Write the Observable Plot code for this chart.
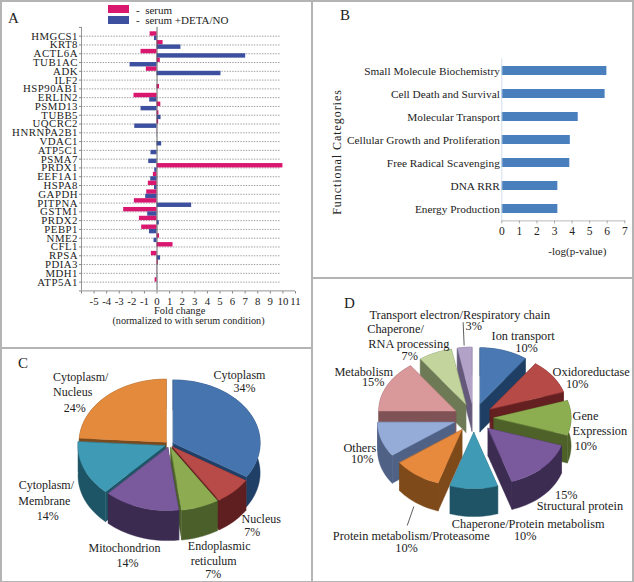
<!DOCTYPE html>
<html>
<head>
<meta charset="utf-8">
<script src="https://cdn.jsdelivr.net/npm/d3@7"></script>
<script src="https://cdn.jsdelivr.net/npm/@observablehq/plot@0.6"></script>
<style>
html,body{margin:0;padding:0;background:#fff}
#page{position:relative;width:634px;height:582px;overflow:hidden;font-family:"Liberation Serif",serif;color:#222}
.panel{position:absolute}
.panel svg{display:block;background:transparent!important;font-family:"Liberation Serif",serif}
.letter{position:absolute;font-size:15px;line-height:15px}
.edge{position:absolute;background:#b4b4b4}
.swatch{position:absolute;width:21px}
.legtext{position:absolute;font-size:11px;line-height:12px;white-space:pre}
.spaced [aria-label="y-axis tick label"] text{letter-spacing:.5px}
.rot{position:absolute;white-space:nowrap;font-size:12px;letter-spacing:.95px;transform:translate(-50%,-50%) rotate(-90deg)}
</style>
</head>
<body>
<div id="page"></div>
<script>
// ---------- Panel A data
const genes = ["HMGCS1","KRT8","ACTL6A","TUB1AC","ADK","ILF2","HSP90AB1","ERLIN2","PSMD13","TUBB5","UQCRC2","HNRNPA2B1","VDAC1","ATP5C1","PSMA7","PRDX1","EEF1A1","HSPA8","GAPDH","PITPNA","GSTM1","PRDX2","PEBP1","NME2","CFL1","RPSA","PDIA3","MDH1","ATP5A1"];
const minusSerum = [-0.55,0.48,-1.27,0.26,-0.85,0,0.2,-1.83,0.3,0.15,0.13,0.02,0,0,0,10,-0.29,-0.69,-0.82,-1.8,-2.65,-1.4,-1.22,0.2,1.27,-0.45,0.1,0.02,-0.15];
const minusSerumDeta = [-0.2,1.9,7.04,-2.14,5.08,0,0,-0.58,-1.27,0.32,-1.77,0.02,0.37,-0.48,-0.66,-0.18,-0.5,-0.2,-0.9,2.75,-0.74,0.18,-0.6,-0.24,0,0.28,0.02,0.02,0];
const foldTicks = d3.range(-6,12);
// ---------- Panel B data
const categories = ["Small Molecule Biochemistry","Cell Death and Survival","Molecular Transport","Cellular Growth and Proliferation","Free Radical Scavenging","DNA RRR","Energy Production"];
const logP = [5.98,5.88,4.35,3.9,3.87,3.19,3.19];
// ---------- Panel C data
const locNames = [["Cytoplasm","34%"],["Nucleus","7%"],["Endoplasmic","reticulum","7%"],["Mitochondrion","14%"],["Cytoplasm/","Membrane","14%"],["Cytoplasm/","Nucleus","24%"]];
const locShares = [34,7,7,14,14,24];
// ---------- Panel D data
const funcNames = [["Ion transport","10%"],["Oxidoreductase","10%"],["Gene","Expression","10%"],["15%","Structural protein"],["Chaperone/Protein metabolism","10%"],["Protein metabolism/Proteasome","10%"],["Others","10%"],["Metabolism","15%"],["Chaperone/","RNA processing","7%"],["Transport electron/Respiratory chain","3%"]];
const funcShares = [10,10,10,15,10,10,10,15,7,3];

// ---------- Styles
const pink="#d9176f", navy="#3d509f", barBlue="#4a7fbd";
const topC=["#4674ae","#b84a47","#8dac52","#7a5a9c","#3f9ab5","#e48a3c"];
const sideC=["#1f3f66","#5f1f20","#4b5f2a","#3b2b50","#1e5566","#7a4a1c"];
const topD=["#4a78b2","#b54a47","#8cae50","#7a5a9c","#3f9ab5","#e78a3e","#95acd8","#d9989a","#c3d59c","#b3a2c8"];
const sideD=["#1e3e63","#641f20","#4d6129","#3c2c52","#1e5466","#7f4a1a","#4f6185","#7f5355","#6d7a55","#64597a"];

const page=document.getElementById("page");
function place(node,left,top){const d=document.createElement("div");d.className="panel";d.style.left=left+"px";d.style.top=top+"px";d.appendChild(node);page.appendChild(d);}
function html(cls,style,text){const d=document.createElement("div");d.className=cls;Object.assign(d.style,style);if(text)d.textContent=text;page.appendChild(d);return d;}

// ---------- Panel A
const rowsA = genes.flatMap((g,i)=>[
  {i,zero:0,v:minusSerum[i],y1:i-.5,y2:i,c:pink},
  {i,zero:0,v:minusSerumDeta[i],y1:i,y2:i+.5,c:navy}]).filter(d=>d.v!==0);
const plotA = Plot.plot({
  className:"spaced",width:310,height:348,marginLeft:81,marginRight:15,marginTop:27,marginBottom:57,
  style:{background:"transparent"},
  x:{domain:[-6,11],range:[81,295]},
  y:{domain:[-1,29],range:[26.9,290.4]},
  color:{type:"identity"},
  marks:[
    Plot.ruleY(genes.map((g,i)=>i),{y:d=>d,x1:-6,x2:9.8,stroke:"#8a8a8a",strokeWidth:.8,strokeDasharray:"1.5,1.2"}),
    Plot.rect(rowsA,{x1:"zero",x2:"v",y1:"y1",y2:"y2",fill:"c"}),
    Plot.ruleX([0],{y1:-1,y2:29,stroke:"#555",strokeWidth:.9}),
    Plot.ruleX([-6],{y1:-1,y2:29,stroke:"#888",strokeWidth:.9}),
    Plot.ruleY([29],{x1:-6,x2:11,stroke:"#888",strokeWidth:.9}),
    Plot.axisY({ticks:d3.range(-1,30),tickFormat:i=>genes[i]||"",tickSize:2,tickPadding:1.5,fontSize:10.8,label:null,fill:"#222",stroke:"#888"}),
    Plot.axisX({ticks:foldTicks,tickFormat:v=>v===-6?"":String(v),tickSize:2.5,tickPadding:3.5,fontSize:10.8,label:null,stroke:"#888",fill:"#222"}),
    Plot.text(["Fold change"],{x:1.8,y:29,dy:19.5,text:d=>d,fontSize:10.5,fill:"#222"}),
    Plot.text(["(normalized to with serum condition)"],{x:2.5,y:29,dy:29.5,text:d=>d,fontSize:10.2,fill:"#222"})
  ]
});
place(plotA,0,0);

// ---------- Panel B
const rowsB = categories.map((c,i)=>({c,v:logP[i]}));
const plotB = Plot.plot({
  width:320,height:276,marginLeft:189.3,marginRight:7.7,marginTop:58.4,marginBottom:55.6,
  style:{background:"transparent"},
  x:{domain:[0,7]},
  y:{domain:categories,paddingInner:.6,paddingOuter:.3},
  marks:[
    Plot.barX(rowsB,{x:"v",y:"c",fill:barBlue}),
    Plot.ruleX([0],{stroke:"#d2dfee",strokeWidth:1}),
    Plot.frame({anchor:"bottom",stroke:"#bbb"}),
    Plot.axisY({tickSize:0,tickPadding:2,fontSize:11.3,label:null,fill:"#222"}),
    Plot.axisX({ticks:d3.range(0,8),tickFormat:d3.format("d"),tickSize:3,tickPadding:3,fontSize:11.5,label:null,stroke:"#aaa",fill:"#222",anchor:"bottom"}),
    Plot.text(["-log(p-value)"],{x:4.3,frameAnchor:"bottom",dy:34,text:d=>d,fontSize:11,fill:"#222"})
  ]
});
place(plotB,312,0);

// ---------- Pie geometry (elliptical projection with extrusion)
function pieGeometry(shares,tops,sides,cx,cy,rx,ry,depth,explode){
  const total=d3.sum(shares);
  let start=0;
  const slices=shares.map((s,i)=>{
    const a0=start,a1=start+s/total*2*Math.PI;start=a1;
    const mid=(a0+a1)/2;
    const ox=cx+explode*Math.sin(mid), oy=cy-explode*(ry/rx)*Math.cos(mid);
    const n=Math.max(4,Math.round((a1-a0)/0.05));
    const rim=d3.range(n+1).map(k=>{const a=a0+(a1-a0)*k/n;return [ox+rx*Math.sin(a),oy-ry*Math.cos(a)];});
    return {i,mid,apex:[ox,oy],rim,ax:cx+rx*Math.sin(mid),ay:cy-ry*Math.cos(mid),sortY:oy-ry*0.5*Math.cos(mid)};
  });
  const pts=[];
  const push=(id,c,ring)=>ring.forEach(([x,y])=>pts.push({id,x,y,c}));
  const down=(p,d)=>[p[0],p[1]+d];
  slices.slice().sort((p,q)=>p.sortY-q.sortY).forEach(s=>{
    const c=sides[s.i], first=s.rim[0], last=s.rim[s.rim.length-1];
    push(`a${s.i}`,c,[s.apex,first,down(first,depth),down(s.apex,depth)]);
    push(`b${s.i}`,c,[s.apex,last,down(last,depth),down(s.apex,depth)]);
    push(`o${s.i}`,c,[...s.rim,...s.rim.slice().reverse().map(p=>down(p,depth))]);
    push(`t${s.i}`,tops[s.i],[s.apex,...s.rim]);
  });
  return {pts,slices};
}
function pieLabels(names,slices,offsets){
  return names.flatMap((lines,i)=>lines.map((t,j)=>({t,x:slices[i].ax+offsets[i][j][0],y:slices[i].ay+offsets[i][j][1]})));
}
function piePlot(geo,labels,w,h,x0,y0,links,fs){
  return Plot.plot({
    width:w,height:h,margin:0,style:{background:"transparent"},
    x:{domain:[x0,x0+w],range:[0,w],axis:null},
    y:{domain:[y0,y0+h],range:[0,h],axis:null},
    color:{type:"identity"},
    marks:[
      Plot.line(geo.pts,{x:"x",y:"y",z:"id",fill:"c",stroke:"c",strokeWidth:.4,curve:"linear-closed"}),
      ...links,
      Plot.text(labels,{x:"x",y:"y",text:"t",fontSize:fs,fill:"#222"})
    ]
  });
}

// ---------- Panel C
const geoC=pieGeometry(locShares,topC,sideC,168.7,444,87,63,30,4.5);
const placeC=[[[-6,-38.6],[-1,-26]],[[30.5,30.5],[21.5,43.2]],[[20.5,42.4],[15,57.4],[14.5,70.7]],[[-17.8,43.8],[-14.8,58.4]],[[-42,17.8],[-44,33.5],[-40.5,48.5]],[[-29,-21.4],[-37,-6],[-35,9.6]]];
place(piePlot(geoC,pieLabels(locNames,geoC.slices,placeC),310,232,0,350,[],12),0,350);

// ---------- Panel D
const geoD=pieGeometry(funcShares,topD,sideD,473.3,417.3,77,56,28,20.3);
const placeD=[[[25.6,-28],[28.9,-16.3]],[[55.1,-12.4],[41.1,-1.1]],[[34.7,-1.3],[49,13.7],[35,28]],[[38,37.4],[51.6,48.8]],[[54.4,50],[51.4,62.4]],[[-17.3,73.1],[-22,84.7]],[[-40.8,12.7],[-38.4,24.1]],[[-41.4,-20.2],[-32,-9.9]],[[-47.7,-37.6],[-34.4,-22.6],[-33.4,-10.6]],[[-6.8,-46.8],[7.2,-35.5]]];
const sD=geoD.slices;
const leaders=[
  Plot.link([sD[5]],{x1:d=>d.ax-14.7,y1:d=>d.ay+43.4,x2:d=>d.ax-21.3,y2:d=>d.ay+62.4,stroke:"#333",strokeWidth:.8}),
  Plot.link([sD[9]],{x1:d=>d.ax-3.4,y1:d=>d.ay-39.8,x2:d=>d.ax-2.4,y2:d=>d.ay-16.5,stroke:"#333",strokeWidth:.8})
];
place(piePlot(geoD,pieLabels(funcNames,sD,placeD),318,301,314,280,leaders,12.3),314,280);

// ---------- Legend, letters, frame
html("swatch",{left:"108px",top:"5px",height:"8px",background:pink});
html("swatch",{left:"108px",top:"16px",height:"8px",background:navy});
html("legtext",{left:"136px",top:"4px"},"-  serum");
html("legtext",{left:"136px",top:"14px"},"-  serum +DETA/NO");
html("letter",{left:"8px",top:"11px"},"A");
html("letter",{left:"340px",top:"8px"},"B");
html("letter",{left:"18px",top:"356px"},"C");
html("letter",{left:"344px",top:"296px"},"D");
html("rot",{left:"337px",top:"152px"},"Functional Categories");
[[0,0,634,1.5],[0,0,1.5,582],[0,347,312,1.5],[311,0,2,582],[312,277,322,1.5],[632,0,2,582],[0,580.5,634,1.5]].forEach(([l,t,w,h])=>html("edge",{left:l+"px",top:t+"px",width:w+"px",height:h+"px"}));
</script>
</body>
</html>
